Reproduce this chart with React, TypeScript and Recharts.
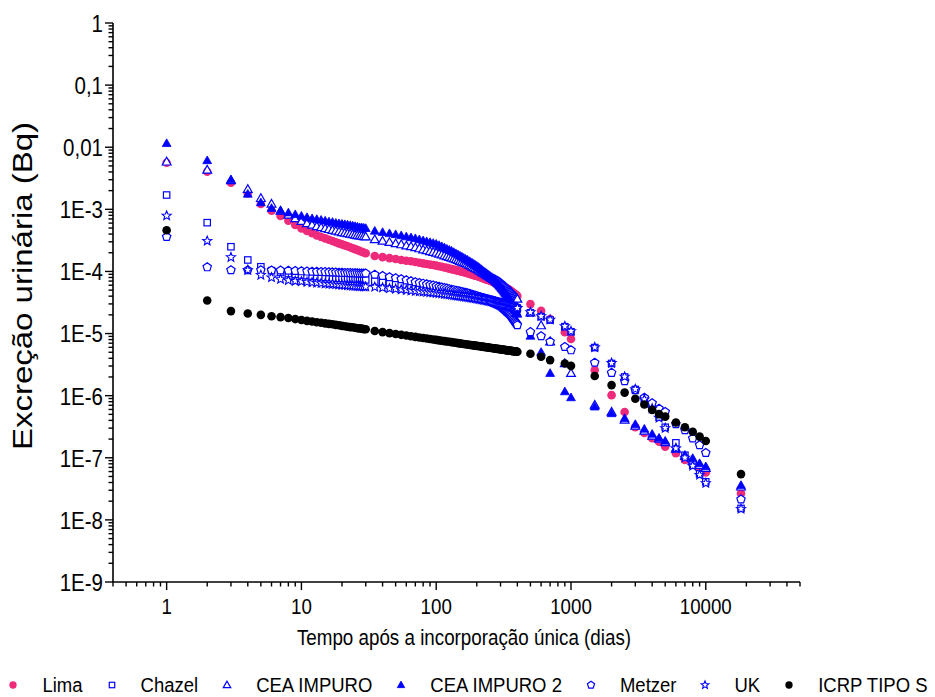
import React from 'react';
import { ScatterChart, Scatter, XAxis, YAxis, Label } from 'recharts';

const FONT = '"Liberation Sans", Arial, Helvetica, sans-serif';
const BLUE = '#0000FF';
const PINK = '#EE2A7B';
const BLACK = '#000000';
const STRETCH = 1.2;
const LEGEND_STRETCH = 1.12;
const TICK_SIZE = 8;
const TICK_MARGIN = 2;

// ---- time points (days) ----
const daysEarly = [1, 2, 3, 4, 5, 6, 7, 8, 9, 10, 11, 12, 13, 14, 15, 16, 17, 18, 19, 20, 21, 22, 23, 24, 25, 26, 27, 28, 29, 30];
const daysMid = [
  35, 40, 45, 50, 55, 60, 65, 70, 75, 80, 85, 90, 95, 100,
  105, 110, 115, 120, 125, 130, 135, 140, 145, 150,
  155, 160, 165, 170, 175, 180, 185, 190, 195, 200,
  205, 210, 215, 220, 225, 230, 235, 240, 245, 250,
  255, 260, 265, 270, 275, 280, 285, 290, 295, 300,
  305, 310, 315, 320, 325, 330, 335, 340, 345, 350,
  355, 360, 365, 370, 375, 380, 385, 390, 395, 400,
];
const daysLate = [500, 600, 700, 900, 1000, 1500, 2000, 2500, 3000, 3500, 4000, 4500, 5000, 6000, 7000, 8000, 9000, 10000, 18250];

// ---- Lima ----
const limaEarly = [5.63e-3, 4.03e-3, 2.68e-3, 1.81e-3, 1.22e-3, 9.5e-4, 7.8e-4, 6.55e-4, 5.59e-4, 4.94e-4, 4.47e-4, 4.11e-4, 3.81e-4, 3.58e-4, 3.41e-4, 3.24e-4, 3.09e-4, 2.95e-4, 2.83e-4, 2.73e-4, 2.63e-4, 2.54e-4, 2.45e-4, 2.36e-4, 2.29e-4, 2.21e-4, 2.14e-4, 2.08e-4, 2.02e-4, 1.96e-4];
const limaMid = [
  1.77e-4, 1.70e-4, 1.64e-4, 1.59e-4, 1.53e-4, 1.49e-4, 1.46e-4, 1.42e-4, 1.38e-4, 1.35e-4, 1.32e-4, 1.29e-4, 1.27e-4, 1.24e-4,
  1.21e-4, 1.19e-4, 1.16e-4, 1.14e-4, 1.11e-4, 1.09e-4, 1.07e-4, 1.05e-4, 1.03e-4, 1.01e-4,
  9.9e-5, 9.7e-5, 9.6e-5, 9.4e-5, 9.25e-5, 9.05e-5, 8.88e-5, 8.72e-5, 8.56e-5, 8.43e-5,
  8.28e-5, 8.12e-5, 7.98e-5, 7.86e-5, 7.71e-5, 7.6e-5, 7.46e-5, 7.35e-5, 7.24e-5, 7.14e-5,
  7.0e-5, 6.88e-5, 6.77e-5, 6.65e-5, 6.53e-5, 6.43e-5, 6.34e-5, 6.22e-5, 6.13e-5, 6.04e-5,
  5.92e-5, 5.82e-5, 5.69e-5, 5.59e-5, 5.49e-5, 5.38e-5, 5.28e-5, 5.19e-5, 5.11e-5, 5.02e-5,
  4.9e-5, 4.8e-5, 4.7e-5, 4.57e-5, 4.47e-5, 4.37e-5, 4.29e-5, 4.2e-5, 4.11e-5, 4.02e-5,
];
const limaLate = [2.98e-5, 2.33e-5, 1.71e-5, 1.05e-5, 8.15e-6, 2.58e-6, 1.02e-6, 5.45e-7, 3.1e-7, 2.5e-7, 2.07e-7, 1.81e-7, 1.51e-7, 1.18e-7, 9.2e-8, 7.9e-8, 6.6e-8, 5.8e-8, 2.67e-8];

// ---- Chazel ----
const chazelEarly = [1.7e-3, 6.1e-4, 2.5e-4, 1.53e-4, 1.19e-4, 1.03e-4, 9.6e-5, 9.25e-5, 8.98e-5, 8.75e-5, 8.57e-5, 8.4e-5, 8.26e-5, 8.13e-5, 8.0e-5, 7.93e-5, 7.86e-5, 7.8e-5, 7.75e-5, 7.7e-5, 7.66e-5, 7.62e-5, 7.58e-5, 7.54e-5, 7.5e-5, 7.46e-5, 7.42e-5, 7.38e-5, 7.34e-5, 7.3e-5];
const chazelMid = [
  7.0e-5, 6.78e-5, 6.55e-5, 6.39e-5, 6.22e-5, 6.06e-5, 5.95e-5, 5.82e-5, 5.69e-5, 5.59e-5, 5.49e-5, 5.38e-5, 5.28e-5, 5.21e-5,
  5.11e-5, 5.04e-5, 4.96e-5, 4.89e-5, 4.82e-5, 4.75e-5, 4.67e-5, 4.62e-5, 4.57e-5, 4.52e-5,
  4.47e-5, 4.42e-5, 4.37e-5, 4.33e-5, 4.26e-5, 4.21e-5, 4.15e-5, 4.11e-5, 4.06e-5, 4.02e-5,
  3.96e-5, 3.9e-5, 3.86e-5, 3.8e-5, 3.76e-5, 3.7e-5, 3.66e-5, 3.61e-5, 3.57e-5, 3.53e-5,
  3.49e-5, 3.45e-5, 3.4e-5, 3.36e-5, 3.32e-5, 3.29e-5, 3.25e-5, 3.23e-5, 3.19e-5, 3.16e-5,
  3.12e-5, 3.08e-5, 3.04e-5, 3.01e-5, 2.98e-5, 2.95e-5, 2.92e-5, 2.89e-5, 2.85e-5, 2.82e-5,
  2.79e-5, 2.77e-5, 2.74e-5, 2.72e-5, 2.69e-5, 2.67e-5, 2.64e-5, 2.62e-5, 2.6e-5, 2.57e-5,
];
const chazelLate = [2.16e-5, 1.87e-5, 1.65e-5, 1.29e-5, 1.07e-5, 5.95e-6, 3.3e-6, 2.0e-6, 1.26e-6, 8.8e-7, 6.3e-7, 4.5e-7, 3.1e-7, 1.74e-7, 1.1e-7, 7.6e-8, 5.5e-8, 4.1e-8, 1.53e-8];

// ---- CEA IMPURO ----
const ceaEarly = [5.8e-3, 4.3e-3, 2.9e-3, 2.1e-3, 1.5e-3, 1.22e-3, 9.4e-4, 8.1e-4, 7.1e-4, 6.4e-4, 5.9e-4, 5.6e-4, 5.3e-4, 5.1e-4, 4.9e-4, 4.75e-4, 4.6e-4, 4.47e-4, 4.34e-4, 4.23e-4, 4.15e-4, 4.08e-4, 4.0e-4, 3.93e-4, 3.86e-4, 3.8e-4, 3.74e-4, 3.7e-4, 3.66e-4, 3.62e-4];
const ceaMid = [
  3.26e-4, 3.09e-4, 2.94e-4, 2.81e-4, 2.7e-4, 2.59e-4, 2.51e-4, 2.42e-4, 2.33e-4, 2.24e-4, 2.17e-4, 2.1e-4, 2.04e-4, 1.98e-4,
  1.91e-4, 1.85e-4, 1.79e-4, 1.74e-4, 1.69e-4, 1.64e-4, 1.6e-4, 1.55e-4, 1.51e-4, 1.46e-4,
  1.42e-4, 1.38e-4, 1.35e-4, 1.32e-4, 1.27e-4, 1.23e-4, 1.19e-4, 1.16e-4, 1.12e-4, 1.09e-4,
  1.06e-4, 1.02e-4, 9.93e-5, 9.64e-5, 9.35e-5, 9.08e-5, 8.82e-5, 8.59e-5, 8.34e-5, 8.12e-5,
  7.92e-5, 7.74e-5, 7.57e-5, 7.41e-5, 7.24e-5, 7.06e-5, 6.93e-5, 6.78e-5, 6.65e-5, 6.5e-5,
  6.29e-5, 6.11e-5, 5.9e-5, 5.75e-5, 5.59e-5, 5.42e-5, 5.26e-5, 5.11e-5, 4.98e-5, 4.83e-5,
  4.69e-5, 4.56e-5, 4.41e-5, 4.28e-5, 4.15e-5, 4.03e-5, 3.93e-5, 3.8e-5, 3.7e-5, 3.59e-5,
];
const ceaLate = [2.16e-5, 1.34e-5, 7.4e-6, 3.3e-6, 2.29e-6, 7.06e-7, 5.45e-7, 4.05e-7, 3.24e-7, 2.69e-7, 2.24e-7, 2.0e-7, 1.76e-7, 1.38e-7, 1.06e-7, 9.2e-8, 7.6e-8, 6.8e-8, 3.4e-8];

// ---- CEA IMPURO 2 ----
const cea2Early = [1.15e-2, 6.1e-3, 3.0e-3, 1.76e-3, 1.28e-3, 1.04e-3, 9.5e-4, 8.8e-4, 8.25e-4, 7.8e-4, 7.4e-4, 7.1e-4, 6.9e-4, 6.7e-4, 6.5e-4, 6.3e-4, 6.2e-4, 6.0e-4, 5.9e-4, 5.8e-4, 5.7e-4, 5.6e-4, 5.5e-4, 5.4e-4, 5.3e-4, 5.2e-4, 5.1e-4, 5.07e-4, 5.0e-4, 4.94e-4];
const cea2Mid = [
  4.47e-4, 4.26e-4, 4.08e-4, 3.93e-4, 3.77e-4, 3.62e-4, 3.5e-4, 3.39e-4, 3.25e-4, 3.13e-4, 3.03e-4, 2.93e-4, 2.84e-4, 2.76e-4,
  2.63e-4, 2.52e-4, 2.41e-4, 2.3e-4, 2.21e-4, 2.13e-4, 2.03e-4, 1.94e-4, 1.86e-4, 1.78e-4,
  1.71e-4, 1.64e-4, 1.58e-4, 1.53e-4, 1.46e-4, 1.41e-4, 1.36e-4, 1.31e-4, 1.26e-4, 1.22e-4,
  1.17e-4, 1.13e-4, 1.08e-4, 1.04e-4, 1.0e-4, 9.67e-5, 9.32e-5, 9.01e-5, 8.72e-5, 8.43e-5,
  8.07e-5, 7.71e-5, 7.41e-5, 7.11e-5, 6.8e-5, 6.53e-5, 6.29e-5, 6.06e-5, 5.82e-5, 5.61e-5,
  5.34e-5, 5.11e-5, 4.87e-5, 4.66e-5, 4.45e-5, 4.26e-5, 4.08e-5, 3.9e-5, 3.76e-5, 3.59e-5,
  3.4e-5, 3.2e-5, 3.03e-5, 2.85e-5, 2.7e-5, 2.55e-5, 2.42e-5, 2.29e-5, 2.18e-5, 2.06e-5,
];
const cea2Late = [9.1e-6, 5.0e-6, 2.29e-6, 1.16e-6, 9.3e-7, 6.6e-7, 5.15e-7, 4.3e-7, 3.45e-7, 2.9e-7, 2.4e-7, 2.07e-7, 1.86e-7, 1.43e-7, 1.1e-7, 9.8e-8, 8.1e-8, 7.2e-8, 3.6e-8];

// ---- Metzer ----
const metzerEarly = [3.6e-4, 1.17e-4, 1.05e-4, 1.05e-4, 1.05e-4, 1.04e-4, 1.04e-4, 1.03e-4, 1.02e-4, 1.01e-4, 1.0e-4, 9.95e-5, 9.9e-5, 9.85e-5, 9.8e-5, 9.75e-5, 9.7e-5, 9.65e-5, 9.6e-5, 9.55e-5, 9.5e-5, 9.47e-5, 9.44e-5, 9.41e-5, 9.38e-5, 9.36e-5, 9.34e-5, 9.32e-5, 9.31e-5, 9.3e-5];
const metzerMid = [
  8.91e-5, 8.49e-5, 8.12e-5, 7.83e-5, 7.52e-5, 7.22e-5, 6.98e-5, 6.75e-5, 6.55e-5, 6.39e-5, 6.22e-5, 6.08e-5, 5.95e-5, 5.82e-5,
  5.67e-5, 5.54e-5, 5.42e-5, 5.32e-5, 5.21e-5, 5.11e-5, 5.02e-5, 4.93e-5, 4.85e-5, 4.76e-5,
  4.69e-5, 4.62e-5, 4.56e-5, 4.49e-5, 4.41e-5, 4.31e-5, 4.23e-5, 4.15e-5, 4.08e-5, 4.02e-5,
  3.93e-5, 3.86e-5, 3.78e-5, 3.71e-5, 3.65e-5, 3.58e-5, 3.51e-5, 3.45e-5, 3.4e-5, 3.34e-5,
  3.26e-5, 3.2e-5, 3.14e-5, 3.08e-5, 3.03e-5, 2.97e-5, 2.92e-5, 2.87e-5, 2.82e-5, 2.77e-5,
  2.68e-5, 2.6e-5, 2.52e-5, 2.45e-5, 2.38e-5, 2.31e-5, 2.24e-5, 2.18e-5, 2.12e-5, 2.06e-5,
  1.98e-5, 1.89e-5, 1.82e-5, 1.74e-5, 1.68e-5, 1.6e-5, 1.54e-5, 1.48e-5, 1.43e-5, 1.37e-5,
];
const metzerLate = [1.06e-5, 9.1e-6, 7.4e-6, 6.1e-6, 5.4e-6, 3.4e-6, 2.34e-6, 1.72e-6, 1.23e-6, 9.3e-7, 7.6e-7, 6.2e-7, 5.5e-7, 3.5e-7, 2.79e-7, 2.05e-7, 1.6e-7, 1.2e-7, 2.14e-8];

// ---- UK ----
const ukEarly = [7.9e-4, 3.1e-4, 1.69e-4, 1.05e-4, 8.75e-5, 8.0e-5, 7.5e-5, 7.2e-5, 7.0e-5, 6.9e-5, 6.75e-5, 6.65e-5, 6.55e-5, 6.46e-5, 6.38e-5, 6.32e-5, 6.25e-5, 6.19e-5, 6.12e-5, 6.04e-5, 5.99e-5, 5.95e-5, 5.91e-5, 5.86e-5, 5.82e-5, 5.79e-5, 5.76e-5, 5.73e-5, 5.7e-5, 5.67e-5];
const ukMid = [
  5.61e-5, 5.46e-5, 5.32e-5, 5.21e-5, 5.09e-5, 5.0e-5, 4.9e-5, 4.83e-5, 4.76e-5, 4.71e-5, 4.64e-5, 4.59e-5, 4.54e-5, 4.49e-5,
  4.42e-5, 4.37e-5, 4.31e-5, 4.26e-5, 4.21e-5, 4.17e-5, 4.12e-5, 4.09e-5, 4.05e-5, 4.0e-5,
  3.97e-5, 3.93e-5, 3.9e-5, 3.87e-5, 3.83e-5, 3.8e-5, 3.76e-5, 3.73e-5, 3.69e-5, 3.66e-5,
  3.62e-5, 3.58e-5, 3.55e-5, 3.51e-5, 3.49e-5, 3.45e-5, 3.42e-5, 3.4e-5, 3.36e-5, 3.34e-5,
  3.3e-5, 3.28e-5, 3.24e-5, 3.2e-5, 3.18e-5, 3.14e-5, 3.12e-5, 3.1e-5, 3.06e-5, 3.04e-5,
  3.01e-5, 2.98e-5, 2.95e-5, 2.93e-5, 2.9e-5, 2.87e-5, 2.84e-5, 2.82e-5, 2.79e-5, 2.77e-5,
  2.75e-5, 2.73e-5, 2.71e-5, 2.69e-5, 2.67e-5, 2.65e-5, 2.63e-5, 2.61e-5, 2.59e-5, 2.57e-5,
];
const ukLate = [2.2e-5, 1.9e-5, 1.67e-5, 1.31e-5, 1.09e-5, 6.0e-6, 3.35e-6, 2.02e-6, 1.27e-6, 8.7e-7, 6.2e-7, 4.4e-7, 3.0e-7, 1.42e-7, 1.0e-7, 7.4e-8, 5.3e-8, 3.9e-8, 1.5e-8];

// ---- ICRP TIPO S ----
const icrpEarly = [4.6e-4, 3.4e-5, 2.3e-5, 2.1e-5, 2.0e-5, 1.9e-5, 1.84e-5, 1.78e-5, 1.71e-5, 1.65e-5, 1.6e-5, 1.56e-5, 1.52e-5, 1.49e-5, 1.46e-5, 1.43e-5, 1.41e-5, 1.38e-5, 1.36e-5, 1.33e-5, 1.31e-5, 1.29e-5, 1.27e-5, 1.26e-5, 1.24e-5, 1.22e-5, 1.21e-5, 1.2e-5, 1.18e-5, 1.17e-5];
const icrpMid = [
  1.1e-5, 1.055e-5, 1.016e-5, 9.83e-6, 9.54e-6, 9.28e-6, 9.04e-6, 8.84e-6, 8.65e-6, 8.47e-6, 8.31e-6, 8.16e-6, 8.02e-6, 7.9e-6,
  7.77e-6, 7.66e-6, 7.55e-6, 7.45e-6, 7.36e-6, 7.27e-6, 7.18e-6, 7.1e-6, 7.02e-6, 6.95e-6,
  6.87e-6, 6.8e-6, 6.74e-6, 6.68e-6, 6.62e-6, 6.56e-6, 6.5e-6, 6.45e-6, 6.39e-6, 6.34e-6,
  6.29e-6, 6.25e-6, 6.2e-6, 6.15e-6, 6.11e-6, 6.07e-6, 6.03e-6, 5.99e-6, 5.95e-6, 5.91e-6,
  5.87e-6, 5.84e-6, 5.8e-6, 5.77e-6, 5.73e-6, 5.7e-6, 5.67e-6, 5.64e-6, 5.61e-6, 5.58e-6,
  5.55e-6, 5.52e-6, 5.5e-6, 5.47e-6, 5.44e-6, 5.41e-6, 5.39e-6, 5.36e-6, 5.34e-6, 5.31e-6,
  5.29e-6, 5.27e-6, 5.24e-6, 5.22e-6, 5.2e-6, 5.18e-6, 5.16e-6, 5.13e-6, 5.11e-6, 5.09e-6,
];
const icrpLate = [4.73e-6, 4.23e-6, 3.74e-6, 3.29e-6, 3.02e-6, 2.07e-6, 1.48e-6, 1.12e-6, 8.9e-7, 7.2e-7, 5.9e-7, 5.05e-7, 4.6e-7, 3.7e-7, 3.1e-7, 2.62e-7, 2.19e-7, 1.86e-7, 5.46e-8];

// ---- axes ----
const xMajorTicks = [1, 10, 100, 1000, 10000];
const xTickLabels = ['1', '10', '100', '1000', '10000'];
const xDecades = [0.1, 1, 10, 100, 1000, 10000];
const yMajorTicks = [1, 0.1, 0.01, 1e-3, 1e-4, 1e-5, 1e-6, 1e-7, 1e-8, 1e-9];
const yTickLabels = ['1', '0,1', '0,01', '1E-3', '1E-4', '1E-5', '1E-6', '1E-7', '1E-8', '1E-9'];
const yDecades = [1e-9, 1e-8, 1e-7, 1e-6, 1e-5, 1e-4, 1e-3, 1e-2, 1e-1];
const minorMultipliers = [2, 3, 4, 5, 6, 7, 8, 9];
const X_DOMAIN: [number, number] = [0.4, 50000];
const Y_DOMAIN: [number, number] = [1e-9, 1];

const xMinor: number[] = [];
xDecades.forEach((d) => minorMultipliers.forEach((m) => {
  const v = +(m * d).toPrecision(6);
  if (v >= X_DOMAIN[0] && v <= X_DOMAIN[1]) xMinor.push(v);
}));
const yMinor: number[] = [];
yDecades.forEach((d) => minorMultipliers.forEach((m) => yMinor.push(+(m * d).toPrecision(6))));
const xAllTicks = [...xMajorTicks, ...xMinor].sort((a, b) => a - b);
const yAllTicks = [...yMajorTicks, ...yMinor].sort((a, b) => a - b);

const findMajor = (list: number[], v: number) => list.findIndex((t) => Math.abs(t - v) / t < 1e-6);

const build = (early: number[], mid: number[], late: number[]) => {
  const xs = [...daysEarly, ...daysMid, ...daysLate];
  const ys = [...early, ...mid, ...late];
  const n = Math.min(xs.length, ys.length);
  const out: { x: number; y: number }[] = [];
  for (let i = 0; i < n; i++) out.push({ x: xs[i], y: ys[i] });
  return out;
};

// ---- marker shapes ----
const triPts = (cx: number, cy: number, s = 1) =>
  `${cx},${cy - 4.6 * s} ${cx - 4.4 * s},${cy + 3.1 * s} ${cx + 4.4 * s},${cy + 3.1 * s}`;
const pentPts = (cx: number, cy: number, r: number) => {
  const pts: string[] = [];
  for (let k = 0; k < 5; k++) {
    const a = -Math.PI / 2 + (k * 2 * Math.PI) / 5;
    pts.push(`${cx + r * Math.cos(a)},${cy + r * Math.sin(a)}`);
  }
  return pts.join(' ');
};
const starPts = (cx: number, cy: number, R: number, r: number) => {
  const pts: string[] = [];
  for (let k = 0; k < 10; k++) {
    const a = -Math.PI / 2 + (k * Math.PI) / 5;
    const rad = k % 2 === 0 ? R : r;
    pts.push(`${cx + rad * Math.cos(a)},${cy + rad * Math.sin(a)}`);
  }
  return pts.join(' ');
};

type Kind = 'circlePink' | 'square' | 'triOpen' | 'triFilled' | 'pentagon' | 'star' | 'circleBlack';

const Marker = ({ kind, cx, cy, s = 1 }: { kind: Kind; cx: number; cy: number; s?: number }) => {
  switch (kind) {
    case 'circlePink':
      return <circle cx={cx} cy={cy} r={4.3 * s} fill={PINK} />;
    case 'circleBlack':
      return <circle cx={cx} cy={cy} r={4.3 * s} fill={BLACK} />;
    case 'square':
      return <rect x={cx - 3.2 * s} y={cy - 3.2 * s} width={6.4 * s} height={6.4 * s} fill="#fff" stroke={BLUE} strokeWidth={1.2} />;
    case 'triOpen':
      return <polygon points={triPts(cx, cy, s)} fill="#fff" stroke={BLUE} strokeWidth={1.2} />;
    case 'triFilled':
      return <polygon points={triPts(cx, cy, s)} fill={BLUE} stroke={BLUE} strokeWidth={0.8} />;
    case 'pentagon':
      return <polygon points={pentPts(cx, cy, 4.4 * s)} fill="#fff" stroke={BLUE} strokeWidth={1.2} />;
    case 'star':
      return <polygon points={starPts(cx, cy, 4.8 * s, 2.1 * s)} fill="#fff" stroke={BLUE} strokeWidth={1.1} />;
    default:
      return null;
  }
};

const shapeOf = (kind: Kind) => (p: any) => <Marker kind={kind} cx={p.cx} cy={p.cy} />;

const series: { name: string; kind: Kind; early: number[]; mid: number[]; late: number[] }[] = [
  { name: 'Lima', kind: 'circlePink', early: limaEarly, mid: limaMid, late: limaLate },
  { name: 'Chazel', kind: 'square', early: chazelEarly, mid: chazelMid, late: chazelLate },
  { name: 'CEA IMPURO', kind: 'triOpen', early: ceaEarly, mid: ceaMid, late: ceaLate },
  { name: 'CEA IMPURO 2', kind: 'triFilled', early: cea2Early, mid: cea2Mid, late: cea2Late },
  { name: 'Metzer', kind: 'pentagon', early: metzerEarly, mid: metzerMid, late: metzerLate },
  { name: 'UK', kind: 'star', early: ukEarly, mid: ukMid, late: ukLate },
  { name: 'ICRP TIPO S', kind: 'circleBlack', early: icrpEarly, mid: icrpMid, late: icrpLate },
];

// ---- ticks ----
const XTick = (props: any) => {
  const { x, y, payload } = props;
  const idx = findMajor(xMajorTicks, payload.value);
  const axisY = y - TICK_SIZE - TICK_MARGIN;
  const len = idx >= 0 ? 8 : 4.5;
  return (
    <g>
      <line x1={x} x2={x} y1={axisY} y2={axisY + len} stroke="#000" strokeWidth={1.4} />
      {idx >= 0 && (
        <text
          transform={`translate(${x},${axisY + 24}) scale(1,${STRETCH})`}
          textAnchor="middle"
          dy="0.36em"
          fontSize={18.7}
          fontFamily={FONT}
          fill="#000"
        >
          {xTickLabels[idx]}
        </text>
      )}
    </g>
  );
};

const YTick = (props: any) => {
  const { x, y, payload } = props;
  const idx = findMajor(yMajorTicks, payload.value);
  const axisX = x + TICK_SIZE + TICK_MARGIN;
  const len = idx >= 0 ? 8 : 4.5;
  return (
    <g>
      <line x1={axisX - len} x2={axisX} y1={y} y2={y} stroke="#000" strokeWidth={1.4} />
      {idx >= 0 && (
        <text
          transform={`translate(${axisX - 10},${y}) scale(1,${STRETCH})`}
          textAnchor="end"
          dy="0.36em"
          fontSize={20.5}
          fontFamily={FONT}
          fill="#000"
        >
          {yTickLabels[idx]}
        </text>
      )}
    </g>
  );
};

const XTitle = () => (
  <text
    transform={`translate(464,637) scale(1,${STRETCH})`}
    textAnchor="middle"
    dy="0.36em"
    fontSize={18.8}
    fontFamily={FONT}
    fill="#000"
  >
    Tempo após a incorporação única (dias)
  </text>
);

const YTitle = () => (
  <text
    transform={`translate(22,286) scale(1,${STRETCH}) rotate(-90)`}
    textAnchor="middle"
    dy="0.36em"
    fontSize={27.5}
    fontFamily={FONT}
    fill="#000"
  >
    Excreção urinária (Bq)
  </text>
);

const LegendRow = () => (
  <div
    style={{
      position: 'absolute',
      left: 0,
      top: 673,
      width: 935,
      height: 24,
      display: 'flex',
      justifyContent: 'center',
      alignItems: 'center',
      whiteSpace: 'nowrap',
      fontFamily: FONT,
      fontSize: 18.5,
      color: '#000',
    }}
  >
    {series.map((s, i) => (
      <div key={s.name} style={{ display: 'flex', alignItems: 'center', flexShrink: 0, marginLeft: i === 0 ? 0 : 23 }}>
        <svg width={12} height={12} style={{ overflow: 'visible', flexShrink: 0 }}>
          <Marker kind={s.kind} cx={6} cy={6} s={0.85} />
        </svg>
        <span style={{ marginLeft: 23, display: 'inline-block', transform: `scaleY(${LEGEND_STRETCH})`, lineHeight: '18px' }}>{s.name}</span>
      </div>
    ))}
  </div>
);

export default function App() {
  return (
    <div style={{ position: 'absolute', left: 0, top: 0, width: 935, height: 697, overflow: 'hidden', background: '#fff' }}>
      <ScatterChart width={935} height={697} margin={{ top: 23, right: 135, bottom: 0, left: 8 }}>
        <XAxis
          type="number"
          dataKey="x"
          scale="log"
          domain={X_DOMAIN}
          allowDataOverflow
          ticks={xAllTicks}
          interval={0}
          tick={XTick}
          tickLine={false}
          tickSize={TICK_SIZE}
          tickMargin={TICK_MARGIN}
          height={115}
          axisLine={{ stroke: '#000', strokeWidth: 1.6 }}
        >
          <Label content={XTitle} />
        </XAxis>
        <YAxis
          type="number"
          dataKey="y"
          scale="log"
          domain={Y_DOMAIN}
          allowDataOverflow
          ticks={yAllTicks}
          interval={0}
          tick={YTick}
          tickLine={false}
          tickSize={TICK_SIZE}
          tickMargin={TICK_MARGIN}
          width={105}
          axisLine={{ stroke: '#000', strokeWidth: 1.6 }}
        >
          <Label content={YTitle} />
        </YAxis>
        {series.map((s) => (
          <Scatter
            key={s.name}
            name={s.name}
            data={build(s.early, s.mid, s.late)}
            shape={shapeOf(s.kind)}
            isAnimationActive={false}
          />
        ))}
      </ScatterChart>
      <LegendRow />
    </div>
  );
}
